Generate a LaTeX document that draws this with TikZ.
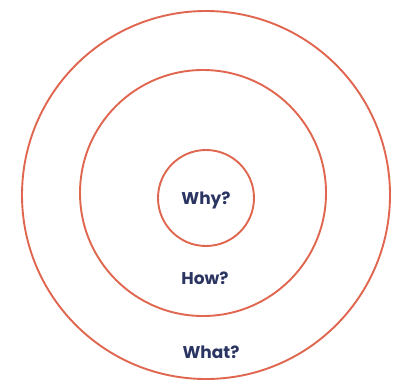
\documentclass[tikz,border=0pt]{standalone}
\usepackage{fontspec}
\setmainfont{Poppins}
\usepackage{xcolor}
\usepackage{tikz}
\usetikzlibrary{positioning}
\definecolor{ringred}{HTML}{E0664F}
\definecolor{labelblue}{HTML}{2B3562}

\begin{document}
\begin{tikzpicture}[
  x=1pt, y=-1pt,
  ring/.style={circle, draw=ringred, line width=1.9pt, inner sep=0pt},
  tag/.style={text=labelblue, font=\fontsize{17}{20}\selectfont\bfseries}
]
  \fill[white] (0,0) rectangle (398,383);
  \useasboundingbox (0,0) rectangle (398,383);
  % three rings, outer to inner
  \node[ring, minimum size=368pt] (what ring) at (206,195) {};
  \node[ring, minimum size=246pt] (how ring) at (203,193) {};
  \node[ring, minimum size=96pt] (why ring) at (206,198) {};
  % labels
  \node[tag] (why) at (206,200) {Why?};
  \node[tag] (how) at (205,278) {How?};
  \node[tag] (what) at (211,352) {What?};
\end{tikzpicture}
\end{document}
